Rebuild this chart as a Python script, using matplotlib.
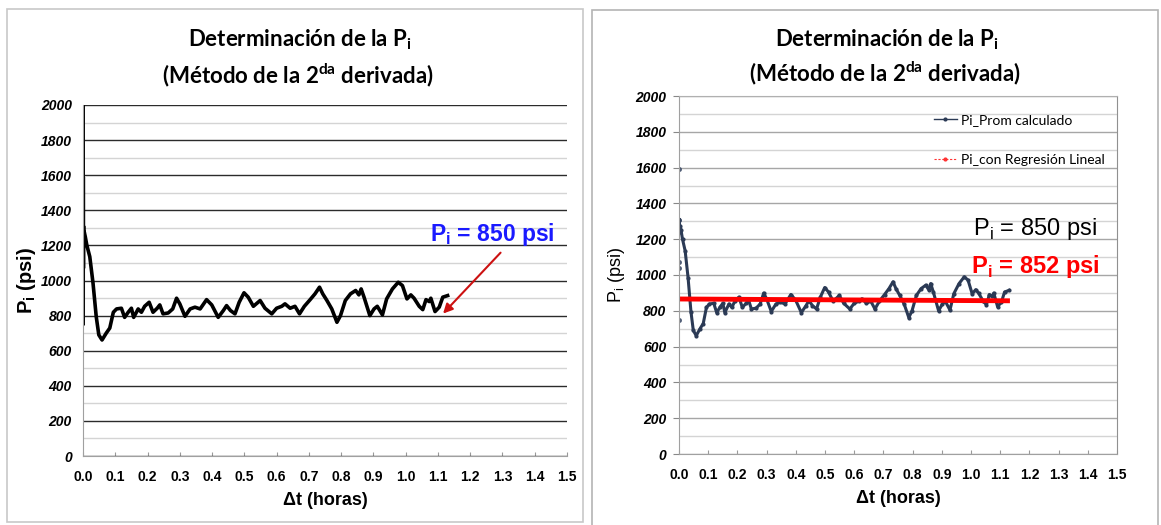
import matplotlib
matplotlib.use("Agg")
import matplotlib.pyplot as plt
from matplotlib.patches import Rectangle
from matplotlib.ticker import MultipleLocator

# ---- data ----
t_hours = [0.0, 0.0003, 0.0006, 0.0009, 0.0012, 0.0015, 0.002, 0.004, 0.007, 0.012,
           0.021, 0.031, 0.041, 0.049, 0.059, 0.072, 0.083, 0.094, 0.104, 0.119,
           0.129, 0.140, 0.150, 0.157, 0.171, 0.181, 0.191, 0.205, 0.217, 0.230,
           0.238, 0.248, 0.264, 0.278, 0.290, 0.300, 0.316, 0.332, 0.347, 0.363,
           0.383, 0.399, 0.419, 0.435, 0.445, 0.457, 0.471, 0.484, 0.499, 0.512,
           0.528, 0.549, 0.564, 0.585, 0.600, 0.616, 0.626, 0.642, 0.657, 0.671,
           0.686, 0.704, 0.719, 0.733, 0.743, 0.756, 0.771, 0.787, 0.798, 0.813,
           0.829, 0.845, 0.855, 0.862, 0.871, 0.889, 0.902, 0.912, 0.928, 0.941,
           0.959, 0.977, 0.990, 1.004, 1.016, 1.026, 1.042, 1.053, 1.063, 1.073,
           1.078, 1.091, 1.104, 1.115, 1.130]
p_prom = [1040, 2020, 750, 1590, 1070, 1310, 1240, 1275, 1250, 1200,
          1136, 986, 794, 690, 661, 700, 729, 819, 838, 842,
          790, 819, 842, 790, 838, 819, 853, 876, 819, 842,
          861, 810, 815, 838, 899, 867, 796, 838, 848, 838,
          891, 861, 790, 829, 857, 829, 810, 876, 930, 905,
          853, 886, 842, 810, 842, 853, 867, 842, 853, 810,
          853, 891, 924, 962, 924, 886, 838, 762, 800, 886,
          924, 943, 918, 952, 905, 800, 838, 853, 804, 895,
          952, 990, 971, 895, 918, 899, 853, 834, 891, 880,
          899, 823, 848, 905, 914]
reg_t = [0.0, 1.125]
reg_p = [866, 856]
x_ticks = [i / 10 for i in range(16)]
y_ticks = list(range(0, 2001, 200))

W, H = 1161, 525
fig = plt.figure(figsize=(W / 100, H / 100), dpi=100)

# panel borders
fig.add_artist(Rectangle((7 / W, 1 - 522 / H), (583 - 7) / W, (522 - 9) / H,
                         transform=fig.transFigure, fill=False, ec="#c8c8c8", lw=1.2))
fig.add_artist(Rectangle((592 / W, 1 - 528 / H), (1158 - 592) / W, (528 - 10) / H,
                         transform=fig.transFigure, fill=False, ec="#b4b4b4", lw=1.2))

TF = "Lato"
tick_font = dict(family="Liberation Sans", weight="bold", size=10)


def setup(ax, dark_grid):
    ax.set_xlim(0, 1.5)
    ax.set_ylim(0, 2000)
    ax.set_xticks(x_ticks)
    ax.set_xticklabels([f"{v:.1f}" for v in x_ticks], **tick_font)
    ax.set_yticks(y_ticks)
    ax.set_yticklabels([str(v) for v in y_ticks], style="italic", **tick_font)
    ax.yaxis.set_minor_locator(MultipleLocator(100))
    ax.grid(True, which="minor", axis="y", color="#d4d4d4", lw=1.0)
    ax.grid(True, which="major", axis="y", color="#2b2b2b" if dark_grid else "#a6a6a6", lw=1.0)
    ax.set_axisbelow(True)
    ax.tick_params(axis="x", which="major", length=3, direction="in", color="#999999", pad=10)
    ax.tick_params(axis="y", which="major", length=0 if dark_grid else 4,
                   direction="out", color="#888888", pad=8 if dark_grid else 5)
    ax.tick_params(axis="y", which="minor", length=0)
    for s in ax.spines.values():
        s.set_color("#a0a0a0")
    ax.set_xlabel("Δt (horas)", family="Liberation Sans", weight="bold", size=13, labelpad=6)


# ---- left chart ----
axL = fig.add_axes([83 / W, 1 - 456 / H, (567 - 83) / W, (456 - 105) / H])
setup(axL, True)
axL.spines["top"].set_visible(False)
axL.spines["right"].set_visible(False)
axL.plot(t_hours, p_prom, color="black", lw=2.6, clip_on=True)
axL.set_ylabel("P$_\\mathregular{i}$ (psi)", family="Liberation Sans", weight="bold",
               size=14.5, labelpad=2)
axL.annotate("", xy=(1.11, 800), xytext=(1.3, 1170),
             arrowprops=dict(arrowstyle="-|>", color="#cc1111", lw=1.5,
                             mutation_scale=14))
axL.text(1.27, 1260, "P$_\\mathregular{i}$ = 850 psi", color="#1a1aff", ha="center",
         va="center", family="Liberation Sans", weight="bold", size=16.5)
fig.text(300 / W, 1 - 40 / H, "Determinación de la P$_\\mathregular{i}$", ha="center",
         va="center", family=TF, weight="bold", size=16)
fig.text(298 / W, 1 - 75 / H, "(Método de la 2$^\\mathregular{da}$ derivada)", ha="center",
         va="center", family=TF, weight="bold", size=16)

# ---- right chart ----
axR = fig.add_axes([679 / W, 1 - 454 / H, (1117 - 679) / W, (454 - 96) / H])
setup(axR, False)
axR.spines["top"].set_color("#b0b0b0")
axR.spines["right"].set_color("#909090")
n0 = 6
axR.plot(t_hours[:n0], p_prom[:n0], color="#2b3a55", lw=0.8, marker="o", ms=2.6,
         mec="#3b4a66", mfc="#3b4a66", alpha=0.8)
axR.plot(t_hours[n0 - 1:], p_prom[n0 - 1:], color="#2b3a55", lw=2.2, marker="o", ms=2.0,
         mec="#2b3a55", mfc="#2b3a55")
axR.plot(reg_t, reg_p, color="#ff0000", lw=3.5)
axR.plot([], [], color="#2b3a55", lw=1.0, marker="o", ms=2, label="Pi_Prom calculado")
axR.plot([], [], color="#ff3333", lw=0.8, ls=(0, (2, 1.5)), marker="o", ms=2,
         label="Pi_con Regresión Lineal")
axR.set_ylabel("P$_\\mathregular{i}$ (psi)", family="Liberation Sans", size=13, labelpad=6)
leg = axR.legend(loc="upper right", bbox_to_anchor=(1.0, 0.985), frameon=False,
                 prop=dict(family=TF, size=10), handlelength=1.6, labelspacing=2.0,
                 handletextpad=0.3)
axR.text(1.22, 1255, "P$_\\mathregular{i}$ = 850 psi", color="black", ha="center",
         va="center", family="Liberation Sans", size=17)
axR.text(1.22, 1050, "P$_\\mathregular{i}$ = 852 psi", color="#ff0000", ha="center",
         va="center", family="Liberation Sans", weight="bold", size=17)
fig.text(887 / W, 1 - 40 / H, "Determinación de la P$_\\mathregular{i}$", ha="center",
         va="center", family=TF, weight="bold", size=16)
fig.text(885 / W, 1 - 73 / H, "(Método de la 2$^\\mathregular{da}$ derivada)", ha="center",
         va="center", family=TF, weight="bold", size=16)

fig.savefig("out.png", dpi=100)
